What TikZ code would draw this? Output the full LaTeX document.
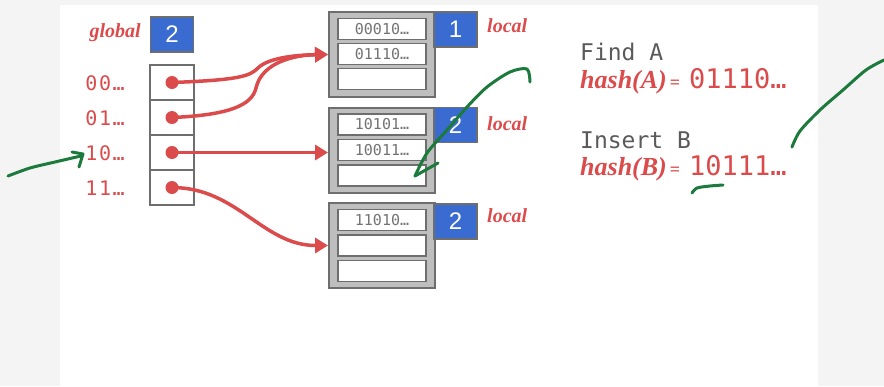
\documentclass[tikz,border=0pt]{standalone}
\usepackage{fontspec}
\setmainfont{Liberation Serif}
\newfontfamily\monof{DejaVu Sans Mono}
\newfontfamily\monosp[LetterSpace=8]{DejaVu Sans Mono}
\newfontfamily\sansf{Liberation Sans}
\usetikzlibrary{arrows.meta}
\definecolor{redc}{HTML}{DC4B4B}
\definecolor{bluec}{HTML}{3A6BD0}
\definecolor{grayfill}{HTML}{BEBEBE}
\definecolor{grayline}{HTML}{6E6E6E}
\definecolor{greenc}{HTML}{1B7A3C}
\definecolor{bgc}{HTML}{F4F4F4}
\definecolor{txtgray}{HTML}{5A5A5A}
\begin{document}
\begin{tikzpicture}[x=1pt,y=-1pt,
  bluebox/.style={fill=bluec, draw=grayline, line width=1.2pt, minimum width=43pt, minimum height=35pt, inner sep=0pt, text=white, font=\sansf\fontsize{24}{24}\selectfont},
  bucketbox/.style={fill=grayfill, draw=grayline, line width=2pt, minimum width=106pt, minimum height=85pt, inner sep=0pt},
  slot/.style={fill=white, draw=grayline, line width=1.5pt, minimum width=88pt, minimum height=21pt, inner sep=0pt, font=\monof\fontsize{15}{15}\selectfont, text=txtgray!85!white},
  dircell/.style={fill=white, draw=grayline, line width=1.5pt, minimum width=44pt, minimum height=35pt, inner sep=0pt},
  reddot/.style={circle, fill=redc, minimum size=13pt, inner sep=0pt},
  dirlabel/.style={font=\monosp\fontsize{20}{20}\selectfont, text=redc, anchor=east, inner sep=0pt},
  italred/.style={font=\bfseries\itshape\fontsize{20}{20}\selectfont, text=redc, inner sep=0pt},
  graytext/.style={font=\monof\fontsize{23}{23}\selectfont, text=txtgray, anchor=base west, inner sep=0pt},
  hashtext/.style={text=redc, anchor=base west, inner sep=0pt},
  redarrow/.style={draw=redc, line width=3.5pt, -{Triangle[length=13pt,width=15pt]}},
  greenink/.style={draw=greenc, line width=3pt, line cap=round, line join=round}]
\fill[bgc] (0,0) rectangle (884,386);
\fill[white] (60,5) rectangle (818,386);
\useasboundingbox (0,0) rectangle (884,386);

% global depth
\node[italred, anchor=base east] (glab) at (141,37) {global};
\node[bluebox] (gd) at (172,34.5) {2};

% directory
\foreach \i/\yy/\lab in {0/82.5/00…,1/117.5/01…,2/152.5/10…,3/187.5/11…}{
  \node[dircell] (c\i) at (172,\yy) {};
  \node[reddot] (d\i) at (172,\yy) {};
  \node[dirlabel] (l\i) at (125,\yy+1) {\lab};
}

% buckets
\node[bucketbox] (b1) at (382,54.5) {};
\node[slot] (s11) at (382,29) {00010…};
\node[slot] (s12) at (382,54) {01110…};
\node[slot] (s13) at (382,79) {};
\node[bluebox] (p1) at (455.5,29.5) {1};
\node[italred, anchor=base west] (loc1) at (487,32) {local};

\node[bucketbox] (b2) at (382,150) {};
\node[slot] (s21) at (382,124.5) {10101…};
\node[slot] (s22) at (382,150) {10011…};
\node[slot] (s23) at (382,175.5) {};
\node[bluebox] (p2) at (455.5,125) {2};
\node[italred, anchor=base west] (loc2) at (487,130) {local};

\node[bucketbox] (b3) at (382,245.5) {};
\node[slot] (s31) at (382,220) {11010…};
\node[slot] (s32) at (382,245.5) {};
\node[slot] (s33) at (382,271) {};
\node[bluebox] (p3) at (455.5,221.5) {2};
\node[italred, anchor=base west] (loc3) at (487,222) {local};

% pointers
\draw[redarrow] (d0.center) .. controls (240,80) and (250,76) .. (258,68) .. controls (268,58) and (295,55) .. (b1.west);
\draw[redarrow] (d1.center) .. controls (230,115) and (252,105) .. (256,88) .. controls (262,62) and (295,55) .. (b1.west);
\draw[redarrow] (d2.center) -- (d2.center -| b2.west);
\draw[redarrow] (d3.center) to[out=0,in=180] (b3.west);

% right text
\node[graytext] (finda) at (580,60) {Find A};
\node[hashtext] (hasha) at (580,88) {{\bfseries\itshape\fontsize{26}{26}\selectfont hash(A)}\hspace{3pt}{\bfseries\fontsize{18}{18}\selectfont =}\hspace{9pt}{\monof\fontsize{27}{27}\selectfont 01110…}};
\node[graytext] (insb) at (580,148) {Insert B};
\node[hashtext] (hashb) at (580,175) {{\bfseries\itshape\fontsize{26}{26}\selectfont hash(B)}\hspace{3pt}{\bfseries\fontsize{18}{18}\selectfont =}\hspace{9pt}{\monof\fontsize{27}{27}\selectfont 10111…}};

% green annotations
\draw[greenink] plot[smooth] coordinates {(8,176) (30,168) (55,162) (81,156)};
\draw[greenink] (72,152) -- (83,154) -- (79,167);
\draw[greenink] plot[smooth] coordinates {(530,82) (527,69) (510,72) (487,87) (467,107) (447,130) (427,153) (415,176)};
\draw[greenink] (415,176) -- (438,163);
\draw[greenink] plot[smooth] coordinates {(792,147) (800,131) (820,110) (843,90) (866,70) (884,60)};
\draw[greenink] plot[smooth] coordinates {(692,193) (697,188) (710,186) (723,185)};
\end{tikzpicture}
\end{document}
